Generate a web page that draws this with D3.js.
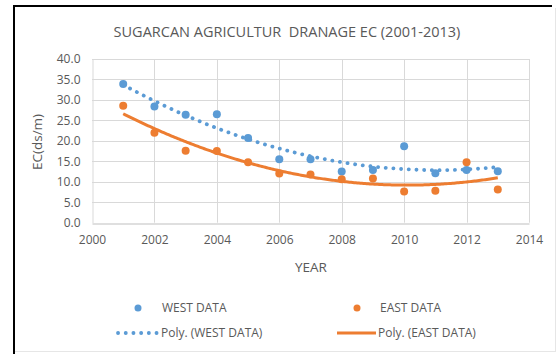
<!DOCTYPE html>
<html>
<head>
<meta charset="utf-8">
<script src="https://cdn.jsdelivr.net/npm/d3@7/dist/d3.min.js"></script>
<style>
  html, body { margin: 0; padding: 0; background: #fff; }
  svg { display: block; }
  text { font-family: "Open Sans", "Noto Sans", sans-serif; fill: #595959; }
</style>
</head>
<body>
<svg id="chart" width="558" height="354"></svg>
<script>
// Measured drainage EC (ds/m) by year
const years = [2001, 2002, 2003, 2004, 2005, 2006, 2007, 2008, 2009, 2010, 2011, 2012, 2013];
const westData = [33.9, 28.4, 26.4, 26.5, 20.7, 15.5, 15.5, 12.5, 12.9, 18.7, 12.1, 12.9, 12.6];
const eastData = [28.6, 22.0, 17.6, 17.5, 14.8, 12.0, 11.8, 10.6, 10.8, 7.6, 7.8, 14.8, 8.1];
const xTicks = [2000, 2002, 2004, 2006, 2008, 2010, 2012, 2014];
const yTicks = [0, 5, 10, 15, 20, 25, 30, 35, 40];

const titleText = "SUGARCAN AGRICULTUR  DRANAGE EC (2001-2013)";
const xTitle = "YEAR";
const yTitle = "EC(ds/m)";

const BLUE = "#5B9BD5";
const ORANGE = "#ED7D31";

const svg = d3.select("#chart");

// Chart frame
svg.append("line").attr("x1", 14).attr("x2", 14).attr("y1", 5).attr("y2", 354)
  .attr("stroke", "#000").attr("stroke-width", 2);
svg.append("line").attr("x1", 13).attr("x2", 552).attr("y1", 6).attr("y2", 6)
  .attr("stroke", "#000").attr("stroke-width", 2);
svg.append("line").attr("x1", 555.5).attr("x2", 555.5).attr("y1", 8).attr("y2", 352)
  .attr("stroke", "#e6e6e6").attr("stroke-width", 1);
svg.append("line").attr("x1", 15).attr("x2", 556).attr("y1", 351.5).attr("y2", 351.5)
  .attr("stroke", "#e6e6e6").attr("stroke-width", 1);

const plot = { left: 92, right: 529, top: 59, bottom: 222.7 };
const x = d3.scaleLinear().domain([2000, 2014]).range([plot.left, plot.right]);
const y = d3.scaleLinear().domain([0, 40]).range([plot.bottom, plot.top]);

// Gridlines
const grid = svg.append("g");
grid.selectAll("line.h").data(yTicks.filter(d => d > 0)).join("line")
  .attr("x1", plot.left).attr("x2", plot.right)
  .attr("y1", d => Math.round(y(d)) + 0.5).attr("y2", d => Math.round(y(d)) + 0.5)
  .attr("stroke", "#d9d9d9");
grid.selectAll("line.v").data(xTicks.filter(d => d > 2000)).join("line")
  .attr("y1", plot.top).attr("y2", plot.bottom)
  .attr("x1", d => Math.round(x(d)) + 0.5).attr("x2", d => Math.round(x(d)) + 0.5)
  .attr("stroke", "#d9d9d9");

// Axes
const xAxis = svg.append("g")
  .attr("transform", `translate(0,${Math.round(plot.bottom) + 0.5})`)
  .call(d3.axisBottom(x).tickValues(xTicks).tickFormat(d3.format("d")).tickSize(0).tickPadding(12));
xAxis.select(".domain").attr("stroke", "#bfbfbf");
xAxis.selectAll("text").style("font-size", "12px").attr("fill", "#595959");

const yAxis = svg.append("g")
  .attr("transform", `translate(${Math.round(plot.left) + 0.5},0)`)
  .call(d3.axisLeft(y).tickValues(yTicks).tickFormat(d3.format(".1f")).tickSize(0).tickPadding(12));
yAxis.select(".domain").attr("stroke", "#d9d9d9");
yAxis.selectAll("text").style("font-size", "12px").attr("fill", "#595959");

// Titles
svg.append("text").attr("x", 287).attr("y", 37).attr("text-anchor", "middle")
  .style("font-size", "14.5px").style("white-space", "pre").text(titleText);
svg.append("text").attr("x", 311).attr("y", 272).attr("text-anchor", "middle")
  .style("font-size", "13.5px").text(xTitle);
svg.append("text").attr("transform", "translate(42,142) rotate(-90)").attr("text-anchor", "middle")
  .style("font-size", "13.5px").text(yTitle);

// Second-order polynomial least-squares fit
function polyFit2(xs, ys) {
  const x0 = d3.mean(xs);
  const u = xs.map(v => v - x0);
  const S = k => d3.sum(u, v => Math.pow(v, k));
  const T = k => d3.sum(u, (v, i) => Math.pow(v, k) * ys[i]);
  const A = [[xs.length, S(1), S(2)], [S(1), S(2), S(3)], [S(2), S(3), S(4)]];
  const b = [T(0), T(1), T(2)];
  // Gaussian elimination
  for (let i = 0; i < 3; i++) {
    for (let j = i + 1; j < 3; j++) {
      const f = A[j][i] / A[i][i];
      for (let k = i; k < 3; k++) A[j][k] -= f * A[i][k];
      b[j] -= f * b[i];
    }
  }
  const c = [0, 0, 0];
  for (let i = 2; i >= 0; i--) {
    let s = b[i];
    for (let k = i + 1; k < 3; k++) s -= A[i][k] * c[k];
    c[i] = s / A[i][i];
  }
  return v => c[0] + c[1] * (v - x0) + c[2] * (v - x0) * (v - x0);
}

const fitW = polyFit2(years, westData);
const fitE = polyFit2(years, eastData);
const xs = d3.range(2001, 2013.001, 0.05);
const line = f => d3.line().x(d => x(d)).y(d => y(f(d))).curve(d3.curveLinear)(xs);

// Markers
svg.append("g").selectAll("circle").data(years).join("circle")
  .attr("cx", d => x(d)).attr("cy", (d, i) => y(westData[i])).attr("r", 4)
  .attr("fill", BLUE);
svg.append("g").selectAll("circle").data(years).join("circle")
  .attr("cx", d => x(d)).attr("cy", (d, i) => y(eastData[i])).attr("r", 4)
  .attr("fill", ORANGE);

// Trendlines
svg.append("path").attr("d", line(fitW)).attr("fill", "none")
  .attr("stroke", BLUE).attr("stroke-width", 3.8).attr("stroke-linecap", "round")
  .attr("stroke-dasharray", "0.1 7.6");
svg.append("path").attr("d", line(fitE)).attr("fill", "none")
  .attr("stroke", ORANGE).attr("stroke-width", 3).attr("stroke-linecap", "butt");

// Legend
const lg = svg.append("g").style("font-size", "12px");
lg.append("circle").attr("cx", 138).attr("cy", 308).attr("r", 3.5).attr("fill", BLUE);
lg.append("text").attr("x", 162).attr("y", 312).text("WEST DATA");
lg.append("circle").attr("cx", 357).attr("cy", 308).attr("r", 3.5).attr("fill", ORANGE);
lg.append("text").attr("x", 380).attr("y", 312).text("EAST DATA");
lg.append("line").attr("x1", 118).attr("x2", 157).attr("y1", 333).attr("y2", 333)
  .attr("stroke", BLUE).attr("stroke-width", 3.8).attr("stroke-linecap", "round")
  .attr("stroke-dasharray", "0.1 7.6");
lg.append("text").attr("x", 161).attr("y", 337).text("Poly. (WEST DATA)");
lg.append("line").attr("x1", 337).attr("x2", 376).attr("y1", 333).attr("y2", 333)
  .attr("stroke", ORANGE).attr("stroke-width", 3);
lg.append("text").attr("x", 378).attr("y", 337).text("Poly. (EAST DATA)");
</script>
</body>
</html>
